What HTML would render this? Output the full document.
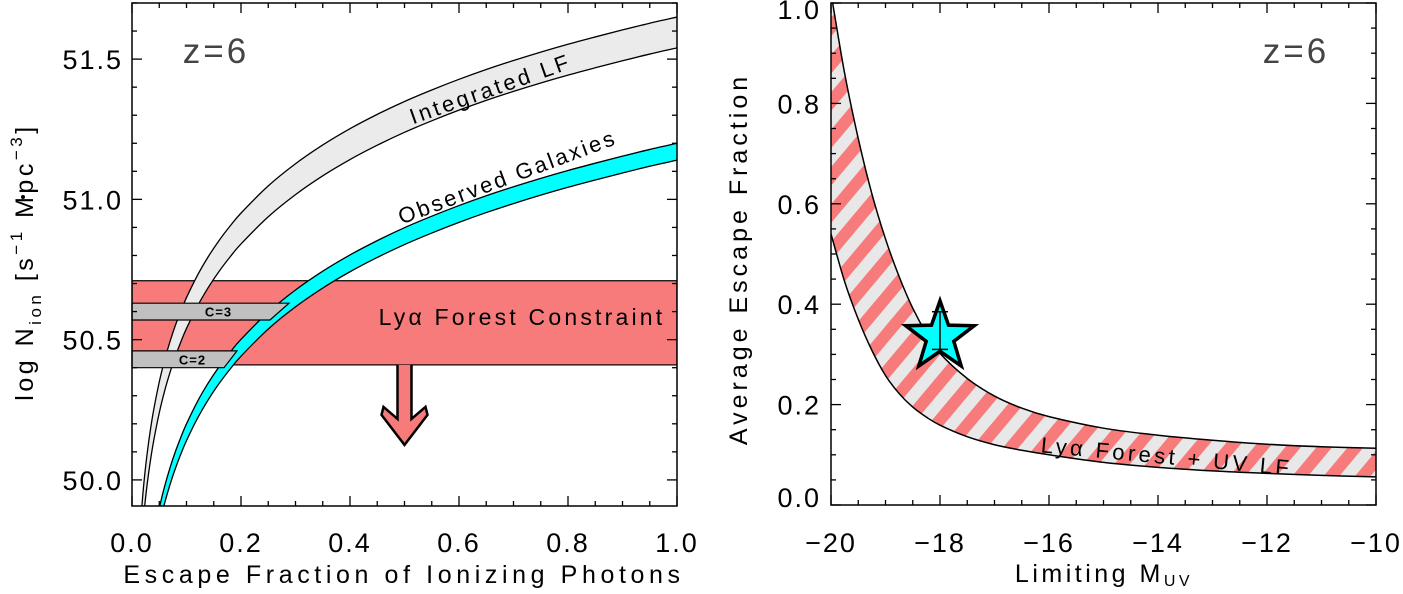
<!DOCTYPE html>
<html><head><meta charset="utf-8"><style>
html,body{margin:0;padding:0;background:#fff;overflow:hidden;width:1403px;height:594px;}
svg{display:block;font-family:"Liberation Sans",sans-serif;}
</style></head><body>
<svg id="chart" width="1403" height="594" viewBox="0 0 1403 594" xmlns="http://www.w3.org/2000/svg">
<defs>
<pattern id="hatch" patternUnits="userSpaceOnUse" width="24" height="24" patternTransform="rotate(40)">
<rect width="24" height="24" fill="#e8e8e8"/>
<rect width="12" height="24" fill="#f77b7b"/>
</pattern>
<clipPath id="clipL"><rect x="132" y="3" width="545" height="503"/></clipPath>
<clipPath id="clipR"><rect x="831" y="3" width="545" height="502"/></clipPath>
</defs>
<g id="left"></g>
<g id="right"></g>
</svg>
<script>
// ---- Left panel data ----
const fescVals = [0.015,0.02,0.025,0.03,0.035,0.04,0.05,0.06,0.07,0.08,0.09,0.1,0.12,0.14,0.16,0.18,0.2,0.25,0.3,0.35,0.4,0.45,0.5,0.55,0.6,0.65,0.7,0.75,0.8,0.85,0.9,0.95,1.0];
const lfUpper = [49.826,49.951,50.048,50.127,50.194,50.252,50.349,50.428,50.495,50.553,50.604,50.650,50.729,50.796,50.854,50.905,50.951,51.048,51.127,51.194,51.252,51.303,51.349,51.390,51.428,51.463,51.495,51.525,51.553,51.579,51.604,51.628,51.650];
const lfLower = [49.716,49.841,49.938,50.017,50.084,50.142,50.239,50.318,50.385,50.443,50.494,50.540,50.619,50.686,50.744,50.795,50.841,50.938,51.017,51.084,51.142,51.193,51.239,51.280,51.318,51.353,51.385,51.415,51.443,51.469,51.494,51.518,51.540];
const obsUpper = [49.376,49.501,49.598,49.677,49.744,49.802,49.899,49.978,50.045,50.103,50.154,50.200,50.279,50.346,50.404,50.455,50.501,50.598,50.677,50.744,50.802,50.853,50.899,50.940,50.978,51.013,51.045,51.075,51.103,51.129,51.154,51.178,51.200];
const obsLower = [49.316,49.441,49.538,49.617,49.684,49.742,49.839,49.918,49.985,50.043,50.094,50.140,50.219,50.286,50.344,50.395,50.441,50.538,50.617,50.684,50.742,50.793,50.839,50.880,50.918,50.953,50.985,51.015,51.043,51.069,51.094,51.118,51.140];
const lyaBand = [50.41, 50.71];
const clumpC3 = [50.57, 50.63];
const clumpC2 = [50.40, 50.46];
const leftXTicks = ["0.0","0.2","0.4","0.6","0.8","1.0"];
const leftYTicks = ["50.0","50.5","51.0","51.5"];
// ---- Right panel data ----
const muvVals = [-20,-19.75,-19.5,-19.25,-19,-18.75,-18.5,-18.25,-18,-17.5,-17,-16.5,-16,-15,-14,-13,-12,-11,-10];
const bandUpper = [1.02,0.86,0.73,0.62,0.53,0.455,0.392,0.342,0.302,0.252,0.217,0.193,0.176,0.153,0.139,0.129,0.121,0.116,0.113];
const bandLower = [0.54,0.445,0.37,0.308,0.258,0.222,0.195,0.175,0.159,0.136,0.12,0.109,0.10,0.085,0.075,0.068,0.063,0.059,0.056];
const starPoint = [-18, 0.335];
const starErr = [0.31, 0.385];
const rightXTicks = ["-20","-18","-16","-14","-12","-10"];
const rightYTicks = ["0.0","0.2","0.4","0.6","0.8","1.0"];

const NS="http://www.w3.org/2000/svg";
function mk(parent,tag,attrs,text){const e=document.createElementNS(NS,tag);for(const k in attrs)e.setAttribute(k,attrs[k]);if(text!==undefined)e.textContent=text;parent.appendChild(e);return e;}

const LX0=132,LX1=677,LY0=506,LY1=3,LYmin=49.907,LYmax=51.70;
const lx=v=>LX0+(v-0)/(1-0)*(LX1-LX0);
const ly=v=>LY0-(v-LYmin)/(LYmax-LYmin)*(LY0-LY1);
const RX0=831,RX1=1376,RY0=505,RY1=3;
const rx=v=>RX0+(v+20)/10*(RX1-RX0);
const ry=v=>RY0-v/1.0*(RY0-RY1);

function segs(pts){let d="";for(let i=0;i<pts.length-1;i++){const p0=pts[Math.max(0,i-1)],p1=pts[i],p2=pts[i+1],p3=pts[Math.min(pts.length-1,i+2)];const c1=[p1[0]+(p2[0]-p0[0])/6,p1[1]+(p2[1]-p0[1])/6],c2=[p2[0]-(p3[0]-p1[0])/6,p2[1]-(p3[1]-p1[1])/6];d+=" C"+c1[0].toFixed(2)+","+c1[1].toFixed(2)+" "+c2[0].toFixed(2)+","+c2[1].toFixed(2)+" "+p2[0].toFixed(2)+","+p2[1].toFixed(2);}return d;}
function smooth(pts){return "M"+pts[0][0].toFixed(2)+","+pts[0][1].toFixed(2)+segs(pts);}
function bandPath(xs,up,lo,fx,fy){const u=xs.map((x,i)=>[fx(x),fy(up[i])]);const l=xs.map((x,i)=>[fx(x),fy(lo[i])]).reverse();return {fill:smooth(u)+" L"+l[0][0].toFixed(2)+","+l[0][1].toFixed(2)+segs(l)+" Z",up:smooth(u),lo:smooth(l)};}

const L=document.getElementById('left');
const Lc=mk(L,'g',{'clip-path':'url(#clipL)'});
const lyaRect=mk(Lc,'rect',{x:LX0,y:ly(lyaBand[1]),width:LX1-LX0,height:ly(lyaBand[0])-ly(lyaBand[1]),fill:'#f77b7b',stroke:'#000','stroke-width':1.2});


const ax=lx(0.5),ab=ly(lyaBand[0]);
const arrow=mk(Lc,'path',{d:`M${ax-7},${ab} L${ax-7},${ab+54} L${ax-21},${ab+42} L${ax-23},${ab+50} L${ax},${ab+80} L${ax+23},${ab+50} L${ax+21},${ab+42} L${ax+7},${ab+54} L${ax+7},${ab}`,fill:'#f77b7b',stroke:'#000','stroke-width':2.5,'stroke-linejoin':'miter'});


const b1=bandPath(fescVals,lfUpper,lfLower,lx,ly);
const lfb=mk(Lc,'path',{d:b1.fill,fill:'#ebebeb',stroke:'none'});


mk(Lc,'path',{d:b1.up,fill:'none',stroke:'#000','stroke-width':1.3});
mk(Lc,'path',{d:b1.lo,fill:'none',stroke:'#000','stroke-width':1.3});
const b2=bandPath(fescVals,obsUpper,obsLower,lx,ly);
const obb=mk(Lc,'path',{d:b2.fill,fill:'#00ffff',stroke:'none'});


mk(Lc,'path',{d:b2.up,fill:'none',stroke:'#000','stroke-width':1.3});
mk(Lc,'path',{d:b2.lo,fill:'none',stroke:'#000','stroke-width':1.3});
function tab(c,xTop,xBot,label,name){const t=ly(c[1]),b=ly(c[0]);const g=mk(L,'g',{});
mk(g,'path',{d:`M${LX0},${t} L${xTop},${t} L${xBot},${b} L${LX0},${b} Z`,fill:'#c0c0c0',stroke:'#000','stroke-width':1.2});
mk(g,'text',{x:(LX0+xTop)/2+8,y:(t+b)/2+5,'font-size':13,'font-weight':'bold','text-anchor':'middle','letter-spacing':1,fill:'#000'},label);}
tab(clumpC3,289,270,"C=3","clumping-c3-tab");
tab(clumpC2,237,224,"C=2","clumping-c2-tab");
let t;
t=mk(L,'text',{x:522,y:325,'font-size':23,'text-anchor':'middle','letter-spacing':3.2},'Lyα Forest Constraint');

t=mk(L,'text',{x:0,y:0,'font-size':22,'text-anchor':'middle','letter-spacing':3,transform:'translate(493,96) rotate(-19.5)'},'Integrated LF');

t=mk(L,'text',{x:0,y:0,'font-size':22,'text-anchor':'middle','letter-spacing':2.6,transform:'translate(510,184) rotate(-20.5)'},'Observed Galaxies');

t=mk(L,'text',{x:216,y:63,'font-size':35,'text-anchor':'middle',fill:'#444','letter-spacing':3},'z=6');


function frame(G,x0,x1,y0,y1){mk(G,'rect',{x:x0,y:y1,width:x1-x0,height:y0-y1,fill:'none',stroke:'#000','stroke-width':1.5});}
frame(L,LX0,LX1,LY0,LY1);
for(let i=0;i<=20;i++){const v=i*0.05,X=lx(v),len=i%4===0?10:5;mk(L,'line',{x1:X,x2:X,y1:LY0,y2:LY0-len,stroke:'#000','stroke-width':1.3});mk(L,'line',{x1:X,x2:X,y1:LY1,y2:LY1+len,stroke:'#000','stroke-width':1.3});}
for(let k=0;k<=18;k++){const v=49.9+k*0.1;const Y=ly(v);if(Y<LY1||Y>LY0)continue;const maj=Math.abs(v*2-Math.round(v*2))<1e-6;const len=maj?10:5;mk(L,'line',{x1:LX0,x2:LX0+len,y1:Y,y2:Y,stroke:'#000','stroke-width':1.3});mk(L,'line',{x1:LX1,x2:LX1-len,y1:Y,y2:Y,stroke:'#000','stroke-width':1.3});}
leftXTicks.forEach((s,i)=>{const e=mk(L,'text',{x:lx(i*0.2),y:552,'font-size':27,'text-anchor':'middle','letter-spacing':2},s);});
leftYTicks.forEach((s,i)=>{const e=mk(L,'text',{x:123,y:ly(50+i*0.5)+10,'font-size':27,'text-anchor':'end','letter-spacing':2},s);});
t=mk(L,'text',{x:404,y:583,'font-size':25,'text-anchor':'middle','letter-spacing':4.6},'Escape Fraction of Ionizing Photons');

t=mk(L,'text',{x:0,y:0,'font-size':25,'text-anchor':'middle','letter-spacing':3.5,transform:'translate(33,262) rotate(-90)'});

t.innerHTML='log  N<tspan font-size="17" dy="8">ion</tspan><tspan dy="-8">  [s</tspan><tspan font-size="17" dy="-11">−1</tspan><tspan dy="11">  Mpc</tspan><tspan font-size="17" dy="-11">−3</tspan><tspan dy="11">]</tspan>';
mk(L,'circle',{cx:23,cy:197,r:2,fill:'#000'});

const R=document.getElementById('right');
const Rc=mk(R,'g',{'clip-path':'url(#clipR)'});
const b3=bandPath(muvVals,bandUpper,bandLower,rx,ry);
const hb=mk(Rc,'path',{d:b3.fill,fill:'url(#hatch)',stroke:'none'});


mk(Rc,'path',{d:b3.up,fill:'none',stroke:'#000','stroke-width':1.5});
mk(Rc,'path',{d:b3.lo,fill:'none',stroke:'#000','stroke-width':1.5});
t=mk(R,'text',{x:0,y:0,'font-size':22,'text-anchor':'middle','letter-spacing':3.4,transform:'translate(1166,464) rotate(5.3)'},'Lyα Forest + UV LF');

const scx=rx(starPoint[0]),scy=ry(starPoint[1]),Ro=36,Ri=14.5;let sp=[];
for(let k=0;k<10;k++){const a=-Math.PI/2+k*Math.PI/5,r=k%2?Ri:Ro;sp.push((scx+r*Math.cos(a)).toFixed(1)+","+(scy+r*Math.sin(a)).toFixed(1));}
const star=mk(R,'polygon',{points:sp.join(" "),fill:'#00ffff',stroke:'#000','stroke-width':3.5,'stroke-linejoin':'miter'});

const eb=mk(R,'g',{stroke:'#000','stroke-width':1.5});

mk(eb,'line',{x1:scx,x2:scx,y1:ry(starErr[1]),y2:ry(starErr[0])});
mk(eb,'line',{x1:scx-8,x2:scx+8,y1:ry(starErr[1]),y2:ry(starErr[1])});
mk(eb,'line',{x1:scx-8,x2:scx+8,y1:ry(starErr[0]),y2:ry(starErr[0])});
t=mk(R,'text',{x:1296,y:63,'font-size':35,'text-anchor':'middle',fill:'#444','letter-spacing':3},'z=6');

frame(R,RX0,RX1,RY0,RY1);
for(let i=0;i<=20;i++){const v=-20+i*0.5,X=rx(v),len=i%4===0?10:5;mk(R,'line',{x1:X,x2:X,y1:RY0,y2:RY0-len,stroke:'#000','stroke-width':1.3});mk(R,'line',{x1:X,x2:X,y1:RY1,y2:RY1+len,stroke:'#000','stroke-width':1.3});}
for(let i=0;i<=20;i++){const Y=ry(i*0.05),len=i%4===0?10:5;mk(R,'line',{x1:RX0,x2:RX0+len,y1:Y,y2:Y,stroke:'#000','stroke-width':1.3});mk(R,'line',{x1:RX1,x2:RX1-len,y1:Y,y2:Y,stroke:'#000','stroke-width':1.3});}
rightXTicks.forEach((s,i)=>{const e=mk(R,'text',{x:rx(-20+i*2),y:552,'font-size':27,'text-anchor':'middle','letter-spacing':2},s.replace('-','−'));});
rightYTicks.forEach((s,i)=>{let Y=ry(i*0.2)+10;if(i===0)Y-=8;if(i===rightYTicks.length-1)Y+=6;const e=mk(R,'text',{x:821,y:Y,'font-size':27,'text-anchor':'end','letter-spacing':2},s);});
t=mk(R,'text',{x:1104,y:582,'font-size':25,'text-anchor':'middle','letter-spacing':3.5});

t.innerHTML='Limiting  M<tspan font-size="16" dy="4">UV</tspan>';
t=mk(R,'text',{x:0,y:0,'font-size':25,'text-anchor':'middle','letter-spacing':4,transform:'translate(747,259) rotate(-90)'},'Average Escape Fraction');

</script>
</body></html>
